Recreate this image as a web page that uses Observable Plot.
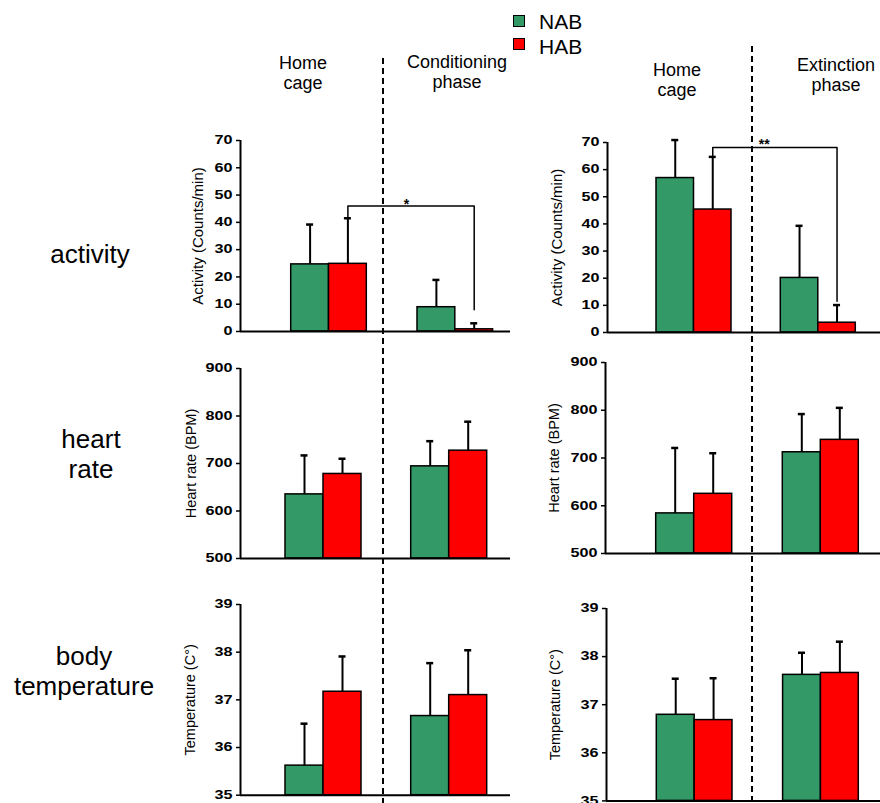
<!DOCTYPE html>
<html><head><meta charset="utf-8">
<script src="https://cdn.jsdelivr.net/npm/d3@7"></script>
<script src="https://cdn.jsdelivr.net/npm/@observablehq/plot@0.6"></script>
<style>
html,body{margin:0;padding:0;background:#fff;}
body{width:880px;height:803px;overflow:hidden;position:relative;font-family:"Liberation Sans",Arial,sans-serif;color:#000;}
.abs{position:absolute;white-space:nowrap;}
.hdr{font-size:18px;line-height:20px;text-align:center;width:160px;margin-left:-80px;}
.row{font-size:26px;line-height:30px;text-align:center;width:170px;margin-left:-85px;}
.leg{font-size:21px;line-height:21px;}
.sw{width:12px;height:12px;box-sizing:border-box;border:1px solid #000;}
.panel{position:absolute;}
#dash{position:absolute;left:0;top:0;pointer-events:none;}
</style></head><body>
<script>
// ---------------- data ----------------
const groups = ["NAB", "HAB"];
const groupColors = ["#339966", "#ff0000"];
const phasesCond = ["Home cage", "Conditioning phase"];
const phasesExt = ["Home cage", "Extinction phase"];
const rowLabels = [["activity"], ["heart", "rate"], ["body", "temperature"]];

const activityTicks = [0, 10, 20, 30, 40, 50, 60, 70];
const heartTicks = [500, 600, 700, 800, 900];
const tempTicks = [35, 36, 37, 38, 39];
const activityDomain = [0, 70];
const heartDomain = [500, 900];
const tempDomain = [35, 39];

const activityLabel = "Activity (Counts/min)";
const heartLabel = "Heart rate (BPM)";
const tempLabel = "Temperature (C°)";

// means and top of error bars, in phase order
const activityCondNAB = [24.6, 8.9];
const activityCondNABErr = [39.2, 18.9];
const activityCondHAB = [24.8, 0.8];
const activityCondHABErr = [41.5, 3.0];
const activityExtNAB = [56.9, 20.1];
const activityExtNABErr = [70.9, 39.3];
const activityExtHAB = [45.3, 3.6];
const activityExtHABErr = [64.7, 10.1];

const heartCondNAB = [635, 694];
const heartCondNABErr = [717, 747];
const heartCondHAB = [678, 727];
const heartCondHABErr = [710, 788];
const heartExtNAB = [584, 712];
const heartExtNABErr = [721, 792];
const heartExtHAB = [625, 738];
const heartExtHABErr = [710, 805];

const tempCondNAB = [35.62, 36.66];
const tempCondNABErr = [36.50, 37.77];
const tempCondHAB = [37.17, 37.10];
const tempCondHABErr = [37.91, 38.04];
const tempExtNAB = [36.79, 37.62];
const tempExtNABErr = [37.54, 38.08];
const tempExtHAB = [36.68, 37.66];
const tempExtHABErr = [37.55, 38.31];

const sigCond = {top: 46, leftEnd: 41.5, rightEnd: 8, starAt: 48, label: "*"};
const sigExt = {top: 68.2, leftEnd: 64.7, rightEnd: 11.5, starAt: 70.6, label: "**"};

// ---------------- layout ----------------
const layout = {
  TL: {axisX: 240, yTop: 140, yBottom: 331, right: 510, lead: 50.7, bw: 75.6, gap: 50.7, labelDist: 42, labelSize: 15, starDx: -48.8},
  TR: {axisX: 606.7, yTop: 141.7, yBottom: 331.7, right: 880, lead: 49, bw: 75, gap: 49.3, labelDist: 50, labelSize: 15, starDx: -54},
  ML: {axisX: 240, yTop: 367.7, yBottom: 557.7, right: 510, lead: 45, bw: 76, gap: 49.7, labelDist: 49.3, labelSize: 14.5},
  MR: {axisX: 605, yTop: 361.7, yBottom: 552.7, right: 880, lead: 50.7, bw: 76, gap: 50.6, labelDist: 51, labelSize: 14.5},
  BL: {axisX: 240, yTop: 604.3, yBottom: 795, right: 510, lead: 45, bw: 76, gap: 49.7, labelDist: 50, labelSize: 14.5},
  BR: {axisX: 605.7, yTop: 608.3, yBottom: 800.7, right: 880, lead: 50.3, bw: 75.7, gap: 50.6, labelDist: 50.7, labelSize: 14.5}
};
const FONT = '"Liberation Sans", Arial, sans-serif';

function panel(L, phases, domain, ticks, label, nab, nabErr, hab, habErr, sig) {
  const ML = 90, MT = 20, MB = 10;
  const W = L.right - L.axisX;
  const step = L.bw + L.gap;
  const outer = W - (2 * L.bw + L.gap);
  const nabRows = phases.map((p, i) => ({phase: p, group: groups[0], value: nab[i], err: nabErr[i]}));
  const habRows = phases.map((p, i) => ({phase: p, group: groups[1], value: hab[i], err: habErr[i]}));
  const q = L.bw / 4, half = L.bw / 2, cap = 3.5;
  const marks = [
    Plot.barY(nabRows, {x: "phase", y1: domain[0], y2: "value", insetRight: half, fill: groupColors[0], stroke: "#000", strokeWidth: 1.5}),
    Plot.barY(habRows, {x: "phase", y1: domain[0], y2: "value", insetLeft: half, fill: groupColors[1], stroke: "#000", strokeWidth: 1.5}),
    Plot.ruleX(nabRows, {x: "phase", y1: "value", y2: "err", dx: -q, stroke: "#000", strokeWidth: 2}),
    Plot.ruleX(habRows, {x: "phase", y1: "value", y2: "err", dx: q, stroke: "#000", strokeWidth: 2}),
    Plot.tickY(nabRows, {x: "phase", y: "err", insetLeft: q - cap, insetRight: 3 * q - cap, stroke: "#000", strokeWidth: 2.5}),
    Plot.tickY(habRows, {x: "phase", y: "err", insetLeft: 3 * q - cap, insetRight: q - cap, stroke: "#000", strokeWidth: 2.5}),
    Plot.ruleX([phases[0]], {y1: domain[0], y2: domain[1], dx: -(L.lead + L.bw / 2), stroke: "#000", strokeWidth: 2}),
    Plot.ruleY([domain[0]], {stroke: "#000", strokeWidth: 2}),
    Plot.axisY({ticks, tickSize: 4, tickPadding: 4, tickFormat: d => String(d), fontSize: 12, fontWeight: "bold", strokeWidth: 1.5, label: null}),
    Plot.text([label], {frameAnchor: "left", rotate: -90, dx: -L.labelDist, fontSize: L.labelSize, textAnchor: "middle", lineAnchor: "middle", fill: "#000"})
  ];
  if (sig) {
    const pts = [
      {phase: phases[0], v: sig.leftEnd},
      {phase: phases[0], v: sig.top},
      {phase: phases[1], v: sig.top},
      {phase: phases[1], v: sig.rightEnd}
    ];
    marks.push(Plot.line(pts, {x: "phase", y: "v", dx: q, stroke: "#000", strokeWidth: 1.5}));
    marks.push(Plot.text([sig.label], {x: () => phases[1], y: () => sig.starAt, dx: L.starDx, dy: 4, fontSize: 14, fontWeight: "bold", lineAnchor: "middle", fill: "#000"}));
  }
  const chart = Plot.plot({
    width: W + ML,
    height: (L.yBottom - L.yTop) + MT + MB,
    marginLeft: ML, marginRight: 0, marginTop: MT, marginBottom: MB,
    style: {fontFamily: FONT, overflow: "visible", background: "none", color: "#000"},
    x: {type: "band", domain: phases, paddingInner: L.gap / step, paddingOuter: outer / (2 * step), align: L.lead / outer, round: false, axis: null},
    y: {domain, axis: null},
    marks
  });
  // stretch tick labels horizontally (wide digits as in the reference), anchored at their right edge
  chart.querySelectorAll('g[aria-label="y-axis tick label"] text').forEach(t => {
    const tr = t.getAttribute("transform") || "";
    const x = t.getAttribute("x");
    let tx = 0;
    if (x != null && x !== "" && !isNaN(+x)) { tx = +x; t.removeAttribute("x"); }
    t.setAttribute("transform", `${tr} translate(${tx},0) scale(1.35,1)`.trim());
  });
  const div = document.createElement("div");
  div.className = "panel";
  div.style.left = (L.axisX - ML) + "px";
  div.style.top = (L.yTop - MT) + "px";
  div.appendChild(chart);
  document.body.appendChild(div);
}

panel(layout.TL, phasesCond, activityDomain, activityTicks, activityLabel, activityCondNAB, activityCondNABErr, activityCondHAB, activityCondHABErr, sigCond);
panel(layout.TR, phasesExt, activityDomain, activityTicks, activityLabel, activityExtNAB, activityExtNABErr, activityExtHAB, activityExtHABErr, sigExt);
panel(layout.ML, phasesCond, heartDomain, heartTicks, heartLabel, heartCondNAB, heartCondNABErr, heartCondHAB, heartCondHABErr, null);
panel(layout.MR, phasesExt, heartDomain, heartTicks, heartLabel, heartExtNAB, heartExtNABErr, heartExtHAB, heartExtHABErr, null);
panel(layout.BL, phasesCond, tempDomain, tempTicks, tempLabel, tempCondNAB, tempCondNABErr, tempCondHAB, tempCondHABErr, null);
panel(layout.BR, phasesExt, tempDomain, tempTicks, tempLabel, tempExtNAB, tempExtNABErr, tempExtHAB, tempExtHABErr, null);

// ---------------- text: headers, row labels, legend ----------------
function addText(cls, lines, left, top) {
  const d = document.createElement("div");
  d.className = "abs " + cls;
  d.style.left = left + "px";
  d.style.top = top + "px";
  d.innerHTML = lines.map(s => s.replace(/&/g, "&amp;").replace(/</g, "&lt;")).join("<br>");
  document.body.appendChild(d);
}
addText("hdr", phasesCond[0].split(" "), 303, 53);
addText("hdr", phasesCond[1].split(" "), 457, 52);
addText("hdr", phasesExt[0].split(" "), 677, 60);
addText("hdr", phasesExt[1].split(" "), 836, 55);
addText("row", rowLabels[0], 90, 239);
addText("row", rowLabels[1], 91, 424);
addText("row", rowLabels[2], 84, 641);

const legendTops = [15, 38.3];
const legendTextTops = [10.5, 35.5];
groups.forEach((g, i) => {
  const sw = document.createElement("div");
  sw.className = "abs sw";
  sw.style.left = "513px";
  sw.style.top = legendTops[i] + "px";
  sw.style.background = groupColors[i];
  document.body.appendChild(sw);
  addText("leg", [g], 539, legendTextTops[i]);
});

// ---------------- dashed separators ----------------
const svg = d3.select("body").append("svg").attr("id", "dash").attr("width", 880).attr("height", 803);
const separators = [{x: 383, y1: 58, y2: 803}, {x: 752, y1: 46, y2: 803}];
svg.selectAll("line").data(separators).join("line")
  .attr("x1", d => d.x).attr("x2", d => d.x)
  .attr("y1", d => d.y1).attr("y2", d => d.y2)
  .attr("stroke", "#000").attr("stroke-width", 2).attr("stroke-dasharray", "6,4");
</script>
</body></html>
